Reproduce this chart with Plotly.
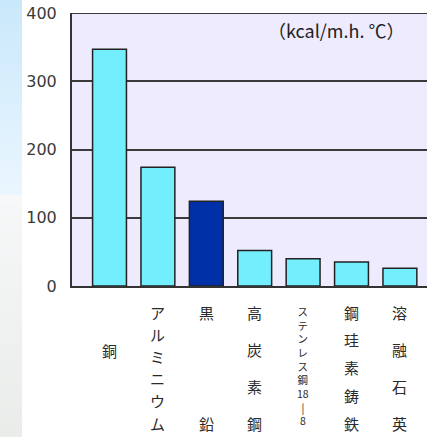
import plotly.graph_objects as go

# ---- data ----
categories = ["銅", "アルミニウム", "黒鉛", "高炭素鋼", "ステンレス鋼18-8", "鋼珪素鋳鉄", "溶融石英"]
values = [347, 174, 124, 52, 40, 35, 26]
bar_colors = ["#72EEFC", "#72EEFC", "#0030A8", "#72EEFC", "#72EEFC", "#72EEFC", "#72EEFC"]
y_ticks = [0, 100, 200, 300, 400]
unit_label = "（kcal/m.h. ℃）"

# vertical label glyph groups (how each category name is stacked)
label_glyphs = [
    ["銅"],
    ["ア", "ル", "ミ", "ニ", "ウ", "ム"],
    ["黒", "鉛"],
    ["高", "炭", "素", "鋼"],
    ["ス", "テ", "ン", "レ", "ス", "鋼", "18", "|", "8"],
    ["鋼", "珪", "素", "鋳", "鉄"],
    ["溶", "融", "石", "英"],
]

W, H = 427, 437
ML, MR, MT, MB = 72, 0, 13, 151
PW, PH = W - ML - MR, H - MT - MB
BASE = H - MB  # pixel row of y=0

fig = go.Figure()
fig.add_trace(go.Bar(
    x=list(range(len(categories))), y=values,
    marker=dict(color=bar_colors, line=dict(color="#222222", width=1.5)),
    hovertext=categories, showlegend=False,
))

annotations = []
# unit label
annotations.append(dict(x=(407 - ML) / PW, y=(BASE - 30) / PH, xref="paper", yref="paper",
                        text=unit_label, showarrow=False, xanchor="right", yanchor="middle",
                        font=dict(family="Noto Sans CJK JP", size=18, color="#222")))


def add_text(i, pix_y, txt, size=14):
    annotations.append(dict(x=i, y=0, xref="x", yref="paper", yshift=-(pix_y - BASE),
                            text=txt, showarrow=False, xanchor="center", yanchor="middle",
                            font=dict(family="Noto Sans CJK JP", size=size, color="#2a2a2a")))


for i, glyphs in enumerate(label_glyphs):
    n = len(glyphs)
    if n == 1:
        add_text(i, 350, glyphs[0], 15)
    elif n >= 9:
        # compact column: one stacked text block
        add_text(i, 366, "<br>".join(glyphs), 10.5)
    else:
        top, bot = 312, 423
        step = (bot - top) / (n - 1)
        for k, g in enumerate(glyphs):
            add_text(i, top + k * step, g, 15)

# left decorative gradient strip
shapes = []
def px_to_paper_x(px):
    return (px - ML) / PW

def px_to_paper_y(py):
    return (BASE - py) / PH

def lerp(c1, c2, t):
    return "#%02x%02x%02x" % tuple(int(round(a + (b - a) * t)) for a, b in zip(c1, c2))

segments = [((0, 195), (0xC9, 0xE8, 0xFB), (0xEA, 0xF6, 0xFE)),
            ((195, 437), (0xF6, 0xF8, 0xF9), (0xEA, 0xEC, 0xEA))]
for (y0, y1), c1, c2 in segments:
    nb = 24
    for b in range(nb):
        ya = y0 + (y1 - y0) * b / nb
        yb = y0 + (y1 - y0) * (b + 1) / nb
        shapes.append(dict(type="rect", xref="paper", yref="paper",
                           x0=px_to_paper_x(0), x1=px_to_paper_x(22),
                           y0=px_to_paper_y(yb), y1=px_to_paper_y(ya) + 0.002,
                           fillcolor=lerp(c1, c2, (b + 0.5) / nb), line=dict(width=0),
                           layer="below"))

# top border line at the 400 level
shapes.append(dict(type="line", xref="paper", yref="y", x0=0, x1=1, y0=400, y1=400,
                   line=dict(color="#3a3a3a", width=2)))

fig.update_layout(
    width=W, height=H,
    margin=dict(l=ML, r=MR, t=MT, b=MB, pad=0),
    paper_bgcolor="white", plot_bgcolor="#EDEBFD",
    bargap=0.3,
    xaxis=dict(range=[-0.775, 6.56], showticklabels=False, showgrid=False, zeroline=False,
               showline=True, linecolor="#333333", linewidth=2, ticks=""),
    yaxis=dict(range=[0, 400], tickvals=y_ticks, showgrid=True, gridcolor="#3a3a3a", gridwidth=1.5,
               zeroline=False, showline=True, linecolor="#333333", linewidth=2,
               ticks="", ticklabelstandoff=10,
               tickfont=dict(family="DejaVu Sans", size=16, color="#3a3a3a")),
    annotations=annotations,
    shapes=shapes,
)

fig.write_html("out.html", config={"displayModeBar": False},
               post_script="document.body.style.margin='0';document.body.style.overflow='hidden';")
